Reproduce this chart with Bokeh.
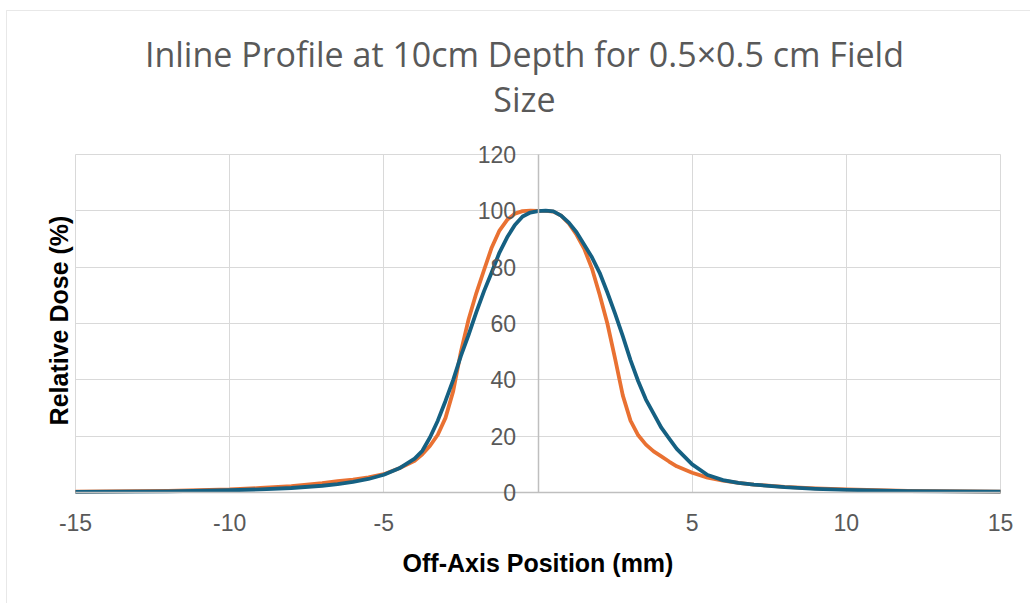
import math
from bokeh.plotting import figure
from bokeh.models import Range1d, Label, FixedTicker, BoxAnnotation
from bokeh.embed import file_html
from bokeh.resources import INLINE

# ---- data ----
positions = [-15, -12, -10, -9, -8, -7, -6.5, -6, -5.5, -5, -4.5, -4, -3.75, -3.5, -3.25,
             -3, -2.75, -2.5, -2.25, -2, -1.75, -1.5, -1.25, -1, -0.75, -0.5, -0.25, 0,
             0.25, 0.5, 0.75, 1, 1.25, 1.5, 1.75, 2, 2.25, 2.5, 2.75, 3, 3.25, 3.5, 3.75,
             4, 4.25, 4.5, 5, 5.5, 6, 6.5, 7, 8, 9, 10, 12, 15]

dose_orange = [0.3, 0.6, 1.1, 1.6, 2.3, 3.3, 4.0, 4.6, 5.4, 6.5, 8.6, 11.3, 13.6, 16.6, 20.5,
               26.5, 36.0, 50.0, 61.5, 70.8, 79.0, 87.0, 93.0, 96.8, 99.0, 99.9, 100.1, 100.0,
               100.0, 99.7, 98.3, 95.5, 91.5, 86.5, 79.5, 70.2, 60.0, 47.5, 34.5, 25.5, 20.3, 17.0, 14.6,
               12.8, 11.0, 9.3, 7.0, 5.3, 4.2, 3.4, 2.8, 2.0, 1.5, 1.1, 0.6, 0.3]

dose_blue = [0.2, 0.4, 0.8, 1.1, 1.6, 2.4, 3.0, 3.8, 4.8, 6.3, 8.6, 12.0, 14.8, 19.6, 25.5,
             32.5, 40.0, 48.5, 56.0, 64.0, 71.5, 78.2, 85.2, 90.6, 95.0, 98.0, 99.4, 99.9,
             100.1, 99.8, 98.3, 95.8, 92.4, 88.0, 83.5, 78.0, 71.0, 63.5, 55.5, 47.0, 39.5, 33.0, 28.0,
             23.0, 19.2, 15.5, 10.0, 6.2, 4.4, 3.4, 2.8, 1.9, 1.3, 0.9, 0.5, 0.3]

x_ticks = [-15, -10, -5, 0, 5, 10, 15]
x_tick_labels = ["-15", "-10", "-5", "", "5", "10", "15"]
y_ticks = [0, 20, 40, 60, 80, 100, 120]
y_tick_labels = ["0", "20", "40", "60", "80", "100", "120"]

title_line1 = "Inline Profile at 10cm Depth for 0.5×0.5 cm Field"
title_line2 = "Size"
x_title = "Off-Axis Position (mm)"
y_title = "Relative Dose (%)"

FONT = "Liberation Sans"
TITLE_FONT = "Open Sans"
GREY = "#595959"

W, H = 1030, 603
# plot area: x -15..15 -> px 75..1000 ; y 0..120 -> px 492..154
PX_MM = 925 / 30.0
PX_U = 338 / 120.0
x0 = -15 - 75 / PX_MM
x1 = 15 + (W - 1000) / PX_MM
y1 = 120 + 154 / PX_U
y0 = -(H - 492) / PX_U

p = figure(width=W, height=H, output_backend="svg", toolbar_location=None,
           x_range=Range1d(x0, x1), y_range=Range1d(y0, y1),
           min_border_left=0, min_border_right=0, min_border_top=0, min_border_bottom=0)
p.outline_line_color = None
p.background_fill_color = "white"
p.border_fill_color = "white"

# chart-area border (left/top visible)
p.add_layout(BoxAnnotation(left=-15 - 69 / PX_MM, top=120 + 144 / PX_U, right=x1 + 5, bottom=y0 - 50,
                           fill_alpha=0, line_color="#b4b4b4", line_width=1))

# grid
p.xgrid.ticker = FixedTicker(ticks=x_ticks)
p.ygrid.ticker = FixedTicker(ticks=y_ticks)
p.grid.grid_line_color = "#d9d9d9"
p.grid.grid_line_width = 1
p.xgrid.bounds = (-15, 15)
p.ygrid.bounds = (0, 120)
try:
    p.xgrid.cross_bounds = (0, 120)
    p.ygrid.cross_bounds = (-15, 15)
except Exception:
    pass

# x axis crossing at y = 0
xa = p.xaxis[0]
xa.fixed_location = 0
xa.bounds = (-15, 15)
xa.ticker = FixedTicker(ticks=x_ticks)
xa.major_label_overrides = dict(zip(x_ticks, x_tick_labels))
xa.axis_line_color = "#bfbfbf"
xa.axis_line_width = 1.5
xa.major_tick_line_color = None
xa.minor_tick_line_color = None
xa.major_tick_out = 0
xa.major_tick_in = 0
xa.major_label_standoff = 21
xa.major_label_text_font = FONT
xa.major_label_text_font_size = "23px"
xa.major_label_text_color = GREY

# y axis crossing at x = 0
ya = p.yaxis[0]
ya.fixed_location = 0
ya.bounds = (0, 120)
ya.ticker = FixedTicker(ticks=y_ticks)
ya.major_label_overrides = dict(zip(y_ticks, y_tick_labels))
ya.axis_line_color = "#bfbfbf"
ya.axis_line_width = 1.5
ya.major_tick_line_color = None
ya.minor_tick_line_color = None
ya.major_tick_out = 0
ya.major_tick_in = 0
ya.major_label_standoff = 22
ya.major_label_text_font = FONT
ya.major_label_text_font_size = "23px"
ya.major_label_text_color = GREY

# series
p.line(positions, dose_orange, line_color="#E97132", line_width=3.8, line_join="round")
p.line(positions, dose_blue, line_color="#156082", line_width=3.8, line_join="round")

# title
p.add_layout(Label(x=-0.44, y=(492 - 53) / PX_U, text=title_line1, text_align="center",
                   text_baseline="alphabetic", text_font=TITLE_FONT, text_font_size="34px",
                   text_color=GREY))
p.add_layout(Label(x=-0.44, y=(492 - 98) / PX_U, text=title_line2, text_align="center",
                   text_baseline="alphabetic", text_font=TITLE_FONT, text_font_size="34px",
                   text_color=GREY))

# axis titles
p.add_layout(Label(x=(58 - 537.5) / PX_MM, y=(492 - 320) / PX_U, text=y_title, angle=math.pi / 2,
                   text_align="center", text_baseline="middle", text_font=FONT,
                   text_font_size="25px", text_font_style="bold", text_color="#000000"))
p.add_layout(Label(x=0.0, y=(492 - 562) / PX_U, text=x_title,
                   text_align="center", text_baseline="middle", text_font=FONT,
                   text_font_size="25px", text_font_style="bold", text_color="#000000"))

open("out.html", "w").write(file_html(p, INLINE))
